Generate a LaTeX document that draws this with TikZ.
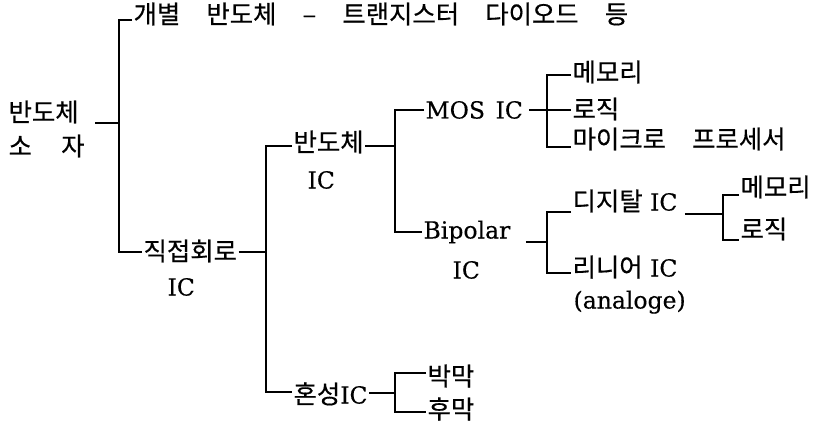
\documentclass[tikz,border=0pt]{standalone}
\usepackage{fontspec}
\setmainfont{DejaVu Serif}[FakeBold=0.3]
\newfontfamily\kr[Scale=1.08, WordSpace=4.6, FakeBold=0.5]{Noto Sans CJK KR}
\begin{document}
\begin{tikzpicture}[x=1pt, y=-1pt, line width=1.2pt,
    lbl/.style={anchor=west, inner xsep=1pt, inner ysep=0pt, text height=17pt, text depth=0pt,
      font=\fontsize{23.5}{28}\selectfont}]
\useasboundingbox (0,0) rectangle (826,422);

% the labels
\node[lbl] (root) at (7,113) {\kr 반도체};
\node[lbl] (root2) at (7,147) {\kr\makebox[76pt][s]{소\hfill 자}};
\node[lbl] (disc) at (132,15) {\kr 개별 반도체 – 트랜지스터 다이오드 등};
\node[lbl] (ic) at (142,252) {\kr 직접회로};
\node[lbl] (icsub) at (166,287) {IC};
\node[lbl] (semi) at (292,143) {\kr 반도체};
\node[lbl] (semisub) at (306,180) {IC};
\node[lbl] (hyb) at (292,395) {{\kr 혼성}IC};
\node[lbl] (mos) at (424,110) {MOS\hspace{0.45em}IC};
\node[lbl] (bip) at (422,230) {Bipolar};
\node[lbl] (bipsub) at (451,270) {IC};
\node[lbl] (mem1) at (571,73) {\kr 메모리};
\node[lbl] (log1) at (571,110) {\kr 로직};
\node[lbl] (mpu) at (571,140) {\kr 마이크로 프로세서};
\node[lbl] (dig) at (571,202) {{\kr 디지탈} IC};
\node[lbl] (lin) at (571,268) {{\kr 리니어} IC};
\node[lbl] (ana) at (572,300) {(analoge)};
\node[lbl] (mem2) at (739,188) {\kr 메모리};
\node[lbl] (log2) at (739,230) {\kr 로직};
\node[lbl] (thin) at (426,377) {\kr 박막};
\node[lbl] (thick) at (426,410) {\kr 후막};

% corners of the brackets
\coordinate (rootj) at (95,123);
\coordinate (b0t) at (119,20);
\coordinate (b0b) at (119,252);
\coordinate (b1t) at (266,146);
\coordinate (b1b) at (266,392);
\coordinate (b2t) at (395,110);
\coordinate (b2m) at (395,146);
\coordinate (b2b) at (395,232);
\coordinate (b3t) at (395,373);
\coordinate (b3m) at (395,393);
\coordinate (b3b) at (395,412);
\coordinate (b4t) at (547,75);
\coordinate (b4b) at (547,147);
\coordinate (b5t) at (547,212);
\coordinate (b5m) at (547,242);
\coordinate (b5b) at (547,273);
\coordinate (b6t) at (723,195);
\coordinate (b6m) at (723,214);
\coordinate (b6b) at (723,240);

% semiconductor device
\draw (rootj) -- (rootj -| b0t);
\draw (disc.west |- b0t) -| (b0b) -- (ic.west |- b0b);

% integrated circuit
\draw (ic.east |- b0b) -- (b0b -| b1t);
\draw (semi.west |- b1t) -| (b1b) -- (hyb.west |- b1b);

% semiconductor IC
\draw (semi.east |- b2m) -- (b2m);
\draw (mos.west |- b2t) -| (b2b) -- (bip.west |- b2b);

% hybrid IC
\draw (hyb.east |- b3m) -- (b3m);
\draw (thin.west |- b3t) -| (b3b) -- (thick.west |- b3b);

% MOS IC
\draw ([xshift=5pt]mos.east) -- (log1.west);
\draw (mem1.west |- b4t) -| (b4b) -- (mpu.west |- b4b);

% bipolar IC
\draw ([xshift=14pt]bip.east |- b5m) -- (b5m);
\draw (dig.west |- b5t) -| (b5b) -- (lin.west |- b5b);

% digital IC
\draw ([xshift=6pt]dig.east |- b6m) -- (b6m);
\draw (mem2.west |- b6t) -| (b6b) -- (log2.west |- b6b);
\end{tikzpicture}
\end{document}
